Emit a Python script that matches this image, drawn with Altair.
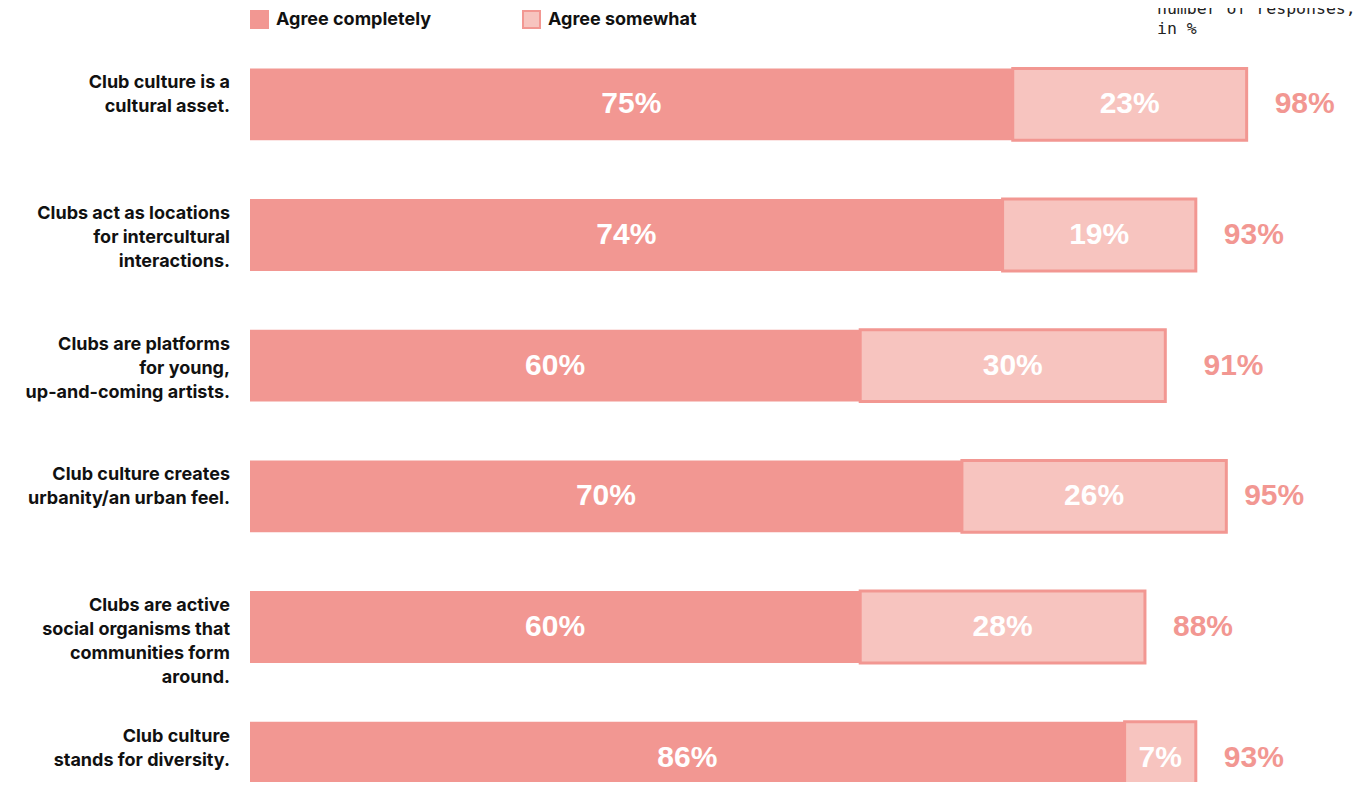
import altair as alt
import pandas as pd

categories = [
    "Club culture is a cultural asset.",
    "Clubs act as locations for intercultural interactions.",
    "Clubs are platforms for young, up-and-coming artists.",
    "Club culture creates urbanity/an urban feel.",
    "Clubs are active social organisms that communities form around.",
    "Club culture stands for diversity.",
]
label_lines = [
    ["Club culture is a", "cultural asset."],
    ["Clubs act as locations", "for intercultural", "interactions."],
    ["Clubs are platforms", "for young,", "up-and-coming artists."],
    ["Club culture creates", "urbanity/an urban feel."],
    ["Clubs are active", "social organisms that", "communities form", "around."],
    ["Club culture", "stands for diversity."],
]
completely = [75, 74, 60, 70, 60, 86]
somewhat = [23, 19, 30, 26, 28, 7]
totals = [98, 93, 91, 95, 88, 93]
series_names = ["Agree completely", "Agree somewhat"]
note_lines = ["number of responses,", "in %"]

DARK = "#F29792"
LIGHT = "#F7C4BF"

rows = []
for cat, c, s in zip(categories, completely, somewhat):
    rows.append(dict(cat=cat, type=series_names[0], start=0, end=c, value=c))
    rows.append(dict(cat=cat, type=series_names[1], start=c, end=c + s, value=s))
bars_df = pd.DataFrame(rows)
tot_df = pd.DataFrame(dict(cat=categories, total=totals, lines=label_lines))
note_df = pd.DataFrame(dict(lines=[note_lines]))

yenc = alt.Y(
    "cat:N",
    sort=categories,
    axis=None,
    scale=alt.Scale(range=[0, 784], paddingInner=0.45, paddingOuter=0.225),
)
xscale = alt.Scale(domain=[0, 100])

bars = alt.Chart(bars_df).mark_bar(strokeJoin="miter").encode(
    x=alt.X("start:Q", scale=xscale, axis=None),
    x2="end:Q",
    y=yenc,
    color=alt.Color(
        "type:N",
        scale=alt.Scale(domain=series_names, range=[DARK, LIGHT]),
        legend=alt.Legend(
            title=None,
            orient="none",
            legendX=0,
            legendY=-29,
            direction="horizontal",
            symbolType="square",
            symbolSize=289,
            symbolStrokeColor=DARK,
            symbolStrokeWidth=2,
            symbolOpacity=1,
            labelFont="Inter",
            labelFontSize=18,
            labelFontWeight="bold",
            labelColor="#111111",
            labelOffset=7,
            columnPadding=87,
        ),
    ),
    stroke=alt.value(DARK),
    strokeWidth=alt.condition(
        f"datum.type == '{series_names[1]}'", alt.value(3), alt.value(0)
    ),
)

inner = alt.Chart(bars_df).mark_text(
    font="Liberation Sans", fontSize=30, fontWeight="bold", color="white",
    align="center", baseline="middle",
).transform_calculate(
    mid="(datum.start + datum.end) / 2", txt="datum.value + '%'"
).encode(
    x=alt.X("mid:Q", scale=xscale, axis=None),
    y=yenc,
    text="txt:N",
)

total_txt = alt.Chart(tot_df).mark_text(
    font="Liberation Sans", fontSize=30, fontWeight="bold", color=DARK,
    align="left", baseline="middle", dx=28,
).transform_calculate(txt="datum.total + '%'").encode(
    x=alt.X("total:Q", scale=xscale, axis=None),
    y=yenc,
    text="txt:N",
)

cat_labels = alt.Chart(tot_df).mark_text(
    font="Inter", fontSize=18, fontWeight="bold", color="#111111",
    align="right", baseline="middle", lineHeight=24, dy=-21,
).encode(
    x=alt.value(-20),
    y=yenc,
    text="lines",
)

note = alt.Chart(note_df).mark_text(
    font="DejaVu Sans Mono", fontSize=16.5, color="#222222",
    align="left", baseline="alphabetic", lineHeight=20,
).encode(
    x=alt.value(907),
    y=alt.value(-25),
    text="lines",
)

chart = alt.layer(bars, inner, total_txt, cat_labels, note).properties(
    width=1017,
    height=743,
    autosize=alt.AutoSizeParams(type="none"),
    padding={"left": 242, "top": 31, "right": 90, "bottom": 0},
    background="white",
).configure_view(stroke=None)

chart.save("out.html", embed_options={"renderer": "svg", "actions": False})
